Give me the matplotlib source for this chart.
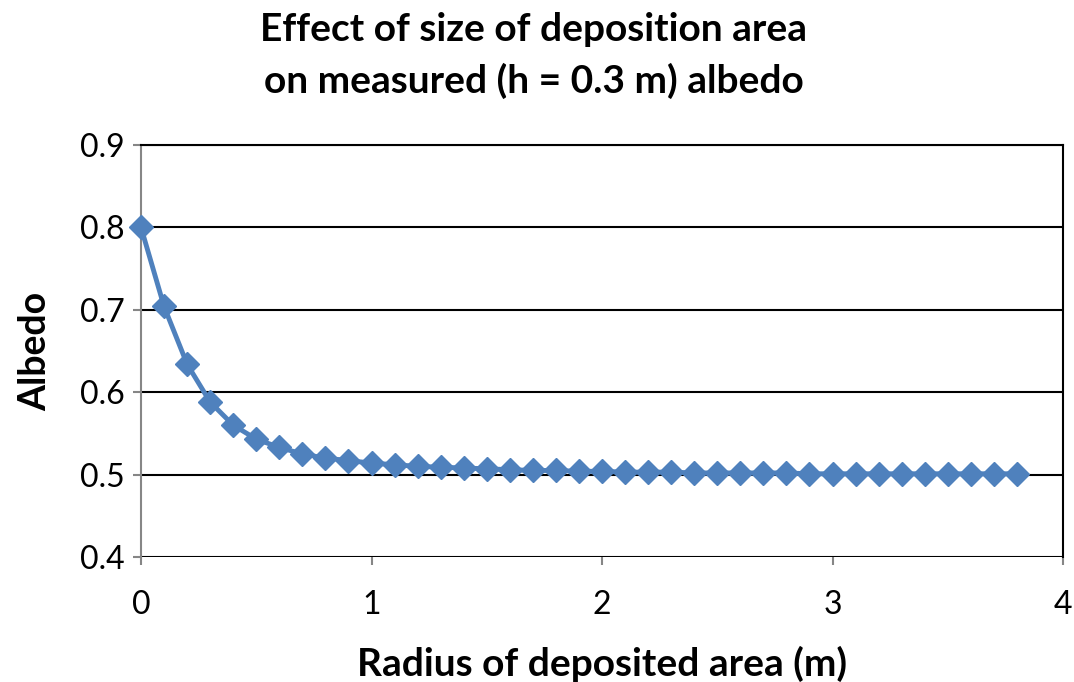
import matplotlib.pyplot as plt

# Radius of deposited area (m) and resulting measured albedo
radius = [round(0.1 * i, 1) for i in range(39)]
albedo = [0.800, 0.704, 0.634, 0.588, 0.560, 0.543, 0.533, 0.525, 0.520, 0.517,
          0.514, 0.512, 0.510, 0.509, 0.508, 0.507, 0.506, 0.505, 0.505, 0.504,
          0.504, 0.503, 0.503, 0.503, 0.502, 0.502, 0.502, 0.502, 0.502, 0.501,
          0.501, 0.501, 0.501, 0.501, 0.501, 0.501, 0.501, 0.501, 0.501]

x_ticks = [0, 1, 2, 3, 4]
y_ticks = [0.4, 0.5, 0.6, 0.7, 0.8, 0.9]

plt.rcParams['font.family'] = ['Lato', 'DejaVu Sans']

fig = plt.figure(figsize=(10.74, 6.82), dpi=100)
ax = fig.add_axes([0.1313, 0.1833, 0.8585, 0.6041])

ax.plot(radius, albedo, color='#4F81BD', linewidth=3.5, marker='D',
        markersize=12, markeredgecolor='#4F81BD', zorder=3, clip_on=False)

ax.set_xlim(0, 4)
ax.set_ylim(0.4, 0.9)
ax.set_xticks(x_ticks)
ax.set_xticklabels([str(t) for t in x_ticks])
ax.set_yticks(y_ticks)
ax.set_yticklabels([f'{t:.1f}' for t in y_ticks])

ax.yaxis.grid(True, color='black', linewidth=1.5)
ax.set_axisbelow(True)
for side in ['top', 'right']:
    ax.spines[side].set_color('black')
    ax.spines[side].set_linewidth(1.5)
ax.spines['bottom'].set_visible(False)
ax.spines['left'].set_color('#868686')
ax.spines['left'].set_linewidth(1.5)

ax.tick_params(axis='both', labelsize=23, color='#868686', width=1.5, length=6)
ax.tick_params(axis='x', pad=18)
ax.tick_params(axis='y', pad=6)

ax.set_xlabel('Radius of deposited area (m)', fontsize=28, fontweight='bold', labelpad=18)
ax.set_ylabel('Albedo', fontsize=27, fontweight='bold', labelpad=20)
fig.text(0.497, 0.982, 'Effect of size of deposition area\non measured (h = 0.3 m) albedo',
         fontsize=28, fontweight='bold', ha='center', va='top', linespacing=1.5)

fig.savefig('out.png', dpi=100)
